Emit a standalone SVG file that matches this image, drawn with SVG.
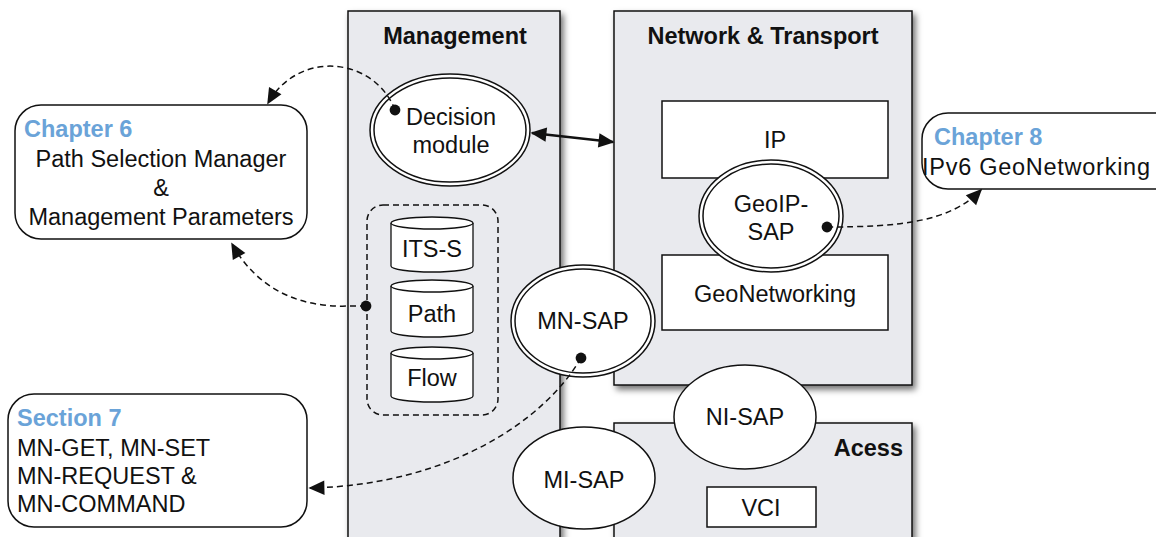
<svg xmlns="http://www.w3.org/2000/svg" width="1156" height="537" viewBox="0 0 1156 537">
<style>
.panel{fill:#e9eaee;stroke:#111;stroke-width:1.5;filter:url(#sh)}
.box{fill:#fff;stroke:#111;stroke-width:1.5}
.t{font-family:"Liberation Sans",Arial,sans-serif;font-size:23.5px;fill:#111}
.b{font-weight:bold}
.blue{fill:#6aa3d8;font-weight:bold}
.dash{fill:none;stroke:#111;stroke-width:1.5;stroke-dasharray:6,4}
.cyl{fill:#fff;stroke:#111;stroke-width:1.3}
</style>
<defs>
<filter id="sh" x="-10%" y="-10%" width="130%" height="130%">
<feDropShadow dx="3" dy="4" stdDeviation="3" flood-color="#000" flood-opacity="0.55"/>
</filter>
<marker id="ahb" viewBox="0 0 10 10" refX="9" refY="5" markerWidth="18" markerHeight="16" orient="auto-start-reverse" markerUnits="userSpaceOnUse">
<path d="M0,0.5 L10,5 L0,9.5 z" fill="#111"/>
</marker>
<marker id="dot" viewBox="0 0 10 10" refX="5" refY="5" markerWidth="12" markerHeight="12" markerUnits="userSpaceOnUse">
<circle cx="5" cy="5" r="4.5" fill="#111"/>
</marker>
</defs>
<rect width="1156" height="537" fill="#fff"/>

<g id="management">
<rect class="panel" x="348" y="11" width="212" height="540"/>
<text class="t b" x="455" y="44" text-anchor="middle">Management</text>
</g>
<g id="network">
<rect class="panel" x="614" y="11" width="298" height="374"/>
<text class="t b" x="763" y="44" text-anchor="middle">Network &amp; Transport</text>
</g>
<g id="access">
<rect class="panel" x="614" y="423" width="298" height="130"/>
<text class="t b" x="903" y="456" text-anchor="end">Acess</text>
</g>

<g id="ip">
<rect class="box" x="662" y="101" width="226" height="77"/>
<text class="t" x="775" y="148" text-anchor="middle">IP</text>
</g>
<g id="geonetworking">
<rect class="box" x="662" y="255" width="226" height="75"/>
<text class="t" x="775" y="302" text-anchor="middle">GeoNetworking</text>
</g>
<g id="vci">
<rect class="box" x="707" y="487" width="109" height="40"/>
<text class="t" x="761" y="516" text-anchor="middle">VCI</text>
</g>

<g id="geoip-sap">
<ellipse cx="771" cy="216" rx="72" ry="56" fill="#fff" stroke="#111" stroke-width="1.5"/>
<ellipse cx="771" cy="216" rx="68" ry="52" fill="#fff" stroke="#111" stroke-width="1.5"/>
<text class="t" x="771" y="212" text-anchor="middle">GeoIP-</text>
<text class="t" x="771" y="240" text-anchor="middle">SAP</text>
</g>

<g id="decision-module">
<ellipse cx="450" cy="130" rx="80" ry="56" fill="#fff" stroke="#111" stroke-width="1.5"/>
<ellipse cx="450" cy="130" rx="76" ry="52" fill="#fff" stroke="#111" stroke-width="1.5"/>
<text class="t" x="451" y="125" text-anchor="middle">Decision</text>
<text class="t" x="451" y="153" text-anchor="middle">module</text>
</g>

<g id="databases">
<rect x="367" y="205" width="131" height="210" rx="16" class="dash" stroke-width="1.3"/>
<g id="its-s">
<path class="cyl" d="M391,223 L391,266 A41,6 0 0 0 473,266 L473,223 A41,6 0 0 0 391,223 Z"/>
<path class="cyl" fill="none" d="M391,223 A41,6 0 0 0 473,223"/>
<text class="t" x="432" y="257" text-anchor="middle">ITS-S</text>
</g>
<g id="path">
<path class="cyl" d="M391,286 L391,331 A41,6 0 0 0 473,331 L473,286 A41,6 0 0 0 391,286 Z"/>
<path class="cyl" fill="none" d="M391,286 A41,6 0 0 0 473,286"/>
<text class="t" x="432" y="322" text-anchor="middle">Path</text>
</g>
<g id="flow">
<path class="cyl" d="M391,353 L391,396 A41,6 0 0 0 473,396 L473,353 A41,6 0 0 0 391,353 Z"/>
<path class="cyl" fill="none" d="M391,353 A41,6 0 0 0 473,353"/>
<text class="t" x="432" y="386" text-anchor="middle">Flow</text>
</g>
</g>

<g id="mn-sap">
<ellipse cx="583" cy="321" rx="72" ry="56" fill="#fff" stroke="#111" stroke-width="1.5"/>
<ellipse cx="583" cy="321" rx="68" ry="52" fill="#fff" stroke="#111" stroke-width="1.5"/>
<text class="t" x="583" y="329" text-anchor="middle">MN-SAP</text>
</g>

<g id="ni-sap">
<ellipse cx="745" cy="417" rx="71" ry="52" fill="#fff" stroke="#111" stroke-width="1.5"/>
<text class="t" x="745" y="425" text-anchor="middle">NI-SAP</text>
</g>
<g id="mi-sap">
<ellipse cx="584" cy="478" rx="71" ry="51" fill="#fff" stroke="#111" stroke-width="1.5"/>
<text class="t" x="584" y="488" text-anchor="middle">MI-SAP</text>
</g>

<g id="chapter6">
<rect class="box" x="15" y="105" width="292" height="134" rx="26"/>
<text class="t blue" x="24" y="137">Chapter 6</text>
<text class="t" x="161" y="167" text-anchor="middle">Path Selection Manager</text>
<text class="t" x="161" y="196" text-anchor="middle">&amp;</text>
<text class="t" x="161" y="225" text-anchor="middle">Management Parameters</text>
</g>

<g id="chapter8">
<rect class="box" x="922" y="113" width="260" height="76" rx="26"/>
<text class="t blue" x="934" y="145">Chapter 8</text>
<text class="t" x="922" y="175" textLength="228" lengthAdjust="spacing">IPv6 GeoNetworking</text>
</g>

<g id="section7">
<rect class="box" x="8" y="394" width="299" height="133" rx="26"/>
<text class="t blue" x="17" y="426">Section 7</text>
<text class="t" x="17" y="456">MN-GET, MN-SET</text>
<text class="t" x="17" y="484">MN-REQUEST &amp;</text>
<text class="t" x="17" y="512">MN-COMMAND</text>
</g>

<g id="connectors">
<path class="dash" d="M395,110 C375,58 300,48 268,103" marker-start="url(#dot)" marker-end="url(#ahb)"/>
<path class="dash" d="M366,306 L350,306 C300,308 258,290 232,244" marker-start="url(#dot)" marker-end="url(#ahb)"/>
<path class="dash" d="M581,358 C545,420 450,485 310,488" marker-start="url(#dot)" marker-end="url(#ahb)"/>
<path class="dash" d="M827,227 C900,227 950,222 981,190" marker-start="url(#dot)" marker-end="url(#ahb)"/>
<path d="M532,133 L613,142" fill="none" stroke="#111" stroke-width="2.5" marker-start="url(#ahb)" marker-end="url(#ahb)"/>
</g>
</svg>
